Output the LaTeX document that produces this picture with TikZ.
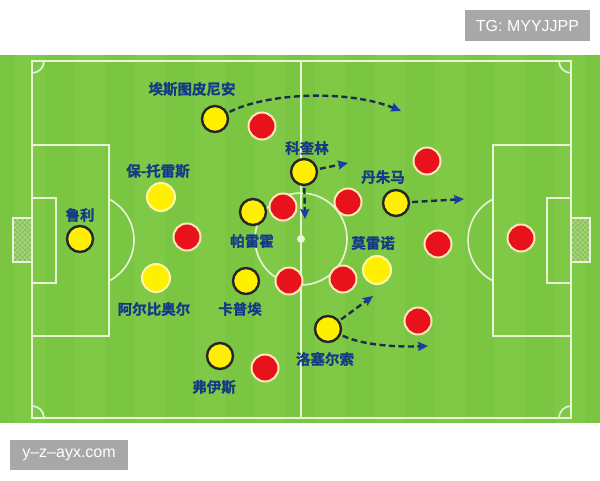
\documentclass[tikz,border=0pt]{standalone}
\usepackage{fontspec}
\newfontfamily\cjk{Noto Sans CJK SC}[BoldFont={Noto Sans CJK SC Bold}, BoldFeatures={FakeBold=1.2}]
\newfontfamily\wmfont{Liberation Sans}
\usetikzlibrary{arrows.meta}
\definecolor{grass}{HTML}{7AC542}
\definecolor{grass2}{HTML}{80C947}
\definecolor{pline}{HTML}{E8F4DA}
\definecolor{pyel}{HTML}{FFF000}
\definecolor{pred}{HTML}{E8121C}
\definecolor{redrim}{HTML}{FFE6B8}
\definecolor{yelrim}{HTML}{FFF7A8}
\definecolor{labblue}{HTML}{163A86}
\definecolor{dashc}{HTML}{1C2E4E}
\definecolor{tipc}{HTML}{1A3CA8}
\definecolor{wmgray}{HTML}{A8A8A8}
\definecolor{netfill}{HTML}{A3D474}
\definecolor{netline}{HTML}{86B85C}
\tikzset{
  pl/.style={draw=pline, line width=1.6pt},
  yb/.style={circle, fill=pyel, draw=black!85, line width=2.4pt, minimum size=26pt, inner sep=0pt},
  yp/.style={circle, fill=pyel, draw=yelrim, line width=2pt, minimum size=28pt, inner sep=0pt},
  rd/.style={circle, fill=pred, draw=redrim, line width=2pt, minimum size=27pt, inner sep=0pt},
  lab/.style={text=labblue, font=\cjk\bfseries\fontsize{14.5}{16}\selectfont, inner sep=0pt},
  run/.style={draw=dashc, line width=2.4pt, dash pattern=on 6pt off 3.5pt, shorten <=2pt,
    -{Stealth[length=10pt,width=9pt,inset=1.5pt,color=tipc]}},
  wm/.style={fill=wmgray, text=white, font=\wmfont\fontsize{16}{18}\selectfont, inner sep=0pt}
}
\begin{document}
\begin{tikzpicture}[x=1pt,y=-1pt]
\useasboundingbox (0,0) rectangle (600,480);
\fill[white] (0,0) rectangle (600,480);
% grass with stripes
\fill[grass] (0,55) rectangle (600,423);
\foreach \i in {0,2,...,18} {
  \fill[grass2] ({\i*30+15},55) rectangle ({\i*30+45},423);
}
% nets
\begin{scope}
  \clip (13,218) rectangle (32,262);
  \fill[netfill] (13,218) rectangle (32,262);
  \foreach \k in {-60,-55,...,80} {
    \draw[netline, line width=0.6pt] ({13+\k},218) -- ({13+\k+44},262);
    \draw[netline, line width=0.6pt] ({13+\k},262) -- ({13+\k+44},218);
  }
\end{scope}
\draw[pl, line width=2pt] (32,218) -- (13,218) -- (13,262) -- (32,262);
\begin{scope}
  \clip (571,218) rectangle (590,262);
  \fill[netfill] (571,218) rectangle (590,262);
  \foreach \k in {-60,-55,...,80} {
    \draw[netline, line width=0.6pt] ({571+\k},218) -- ({571+\k+44},262);
    \draw[netline, line width=0.6pt] ({571+\k},262) -- ({571+\k+44},218);
  }
\end{scope}
\draw[pl, line width=2pt] (571,218) -- (590,218) -- (590,262) -- (571,262);
% pitch markings
\draw[pl] (32,61) rectangle (571,418);
\draw[pl] (301,61) -- (301,418);
\draw[pl] (301,239) circle (46);
\fill[pline] (301,239) circle (4);
\draw[pl] (32,145) rectangle (109,336);
\draw[pl] (32,198) rectangle (56,283);
\draw[pl] (493,145) rectangle (571,336);
\draw[pl] (547,198) rectangle (571,283);
\begin{scope}
  \clip (109,0) rectangle (200,480);
  \draw[pl] (88,240) circle (46);
\end{scope}
\begin{scope}
  \clip (400,0) rectangle (493,480);
  \draw[pl] (514,240) circle (46);
\end{scope}
\begin{scope}
  \clip (32,61) rectangle (571,418);
  \draw[pl] (32,61) circle (12);
  \draw[pl] (571,61) circle (12);
  \draw[pl] (32,418) circle (12);
  \draw[pl] (571,418) circle (12);
\end{scope}
% red players
\node[rd] (r1) at (262,126) {};
\node[rd] (r2) at (283,207) {};
\node[rd] (r3) at (348,202) {};
\node[rd] (r4) at (427,161) {};
\node[rd] (r5) at (187,237) {};
\node[rd] (r6) at (438,244) {};
\node[rd] (r7) at (521,238) {};
\node[rd] (r8) at (289,281) {};
\node[rd] (r9) at (343,279) {};
\node[rd] (r10) at (418,321) {};
\node[rd] (r11) at (265,368) {};
% yellow players
\node[yb] (est) at (215,119) {};
\node[yb] (koq) at (304,172) {};
\node[yb] (dan) at (396,203) {};
\node[yb] (lul) at (80,239) {};
\node[yb] (par) at (253,212) {};
\node[yb] (cap) at (246,281) {};
\node[yb] (los) at (328,329) {};
\node[yb] (foy) at (220,356) {};
\node[yp] (pto) at (161,197) {};
\node[yp] (alb) at (156,278) {};
\node[yp] (mor) at (377,270) {};
% labels
\node[lab] (lest) at (192,89) {埃斯图皮尼安};
\node[lab] (lkoq) at (307,148) {科奎林};
\node[lab] (ldan) at (383,177) {丹朱马};
\node[lab] (lpto) at (158,171) {保-托雷斯};
\node[lab] (llul) at (80,215) {鲁利};
\node[lab] (lpar) at (252,241) {帕雷霍};
\node[lab] (lalb) at (154,309) {阿尔比奥尔};
\node[lab] (lcap) at (240,309) {卡普埃};
\node[lab] (lmor) at (373,243) {莫雷诺};
\node[lab] (llos) at (325,359) {洛塞尔索};
\node[lab] (lfoy) at (214,387) {弗伊斯};
% runs
\coordinate (t1) at (401,111);
\coordinate (t2) at (348,163);
\coordinate (t3) at (305,219);
\coordinate (t4) at (464,199);
\coordinate (t5) at (373,296);
\coordinate (t6) at (428,346);
\draw[run] (est) .. controls (270,92) and (350,90) .. (t1);
\draw[run] (koq) -- (t2);
\draw[run] (koq) -- (t3);
\draw[run] (dan) -- (t4);
\draw[run] (los) -- (t5);
\draw[run] (los) .. controls (365,346) and (400,347) .. (t6);
% watermarks
\node[wm, minimum width=125pt, minimum height=31pt] (wm1) at (527.5,25.5) {TG: MYYJJPP};
\node[wm, minimum width=118pt, minimum height=30pt] (wm2) at (69,455) {y–z–ayx.com};
\end{tikzpicture}
\end{document}
